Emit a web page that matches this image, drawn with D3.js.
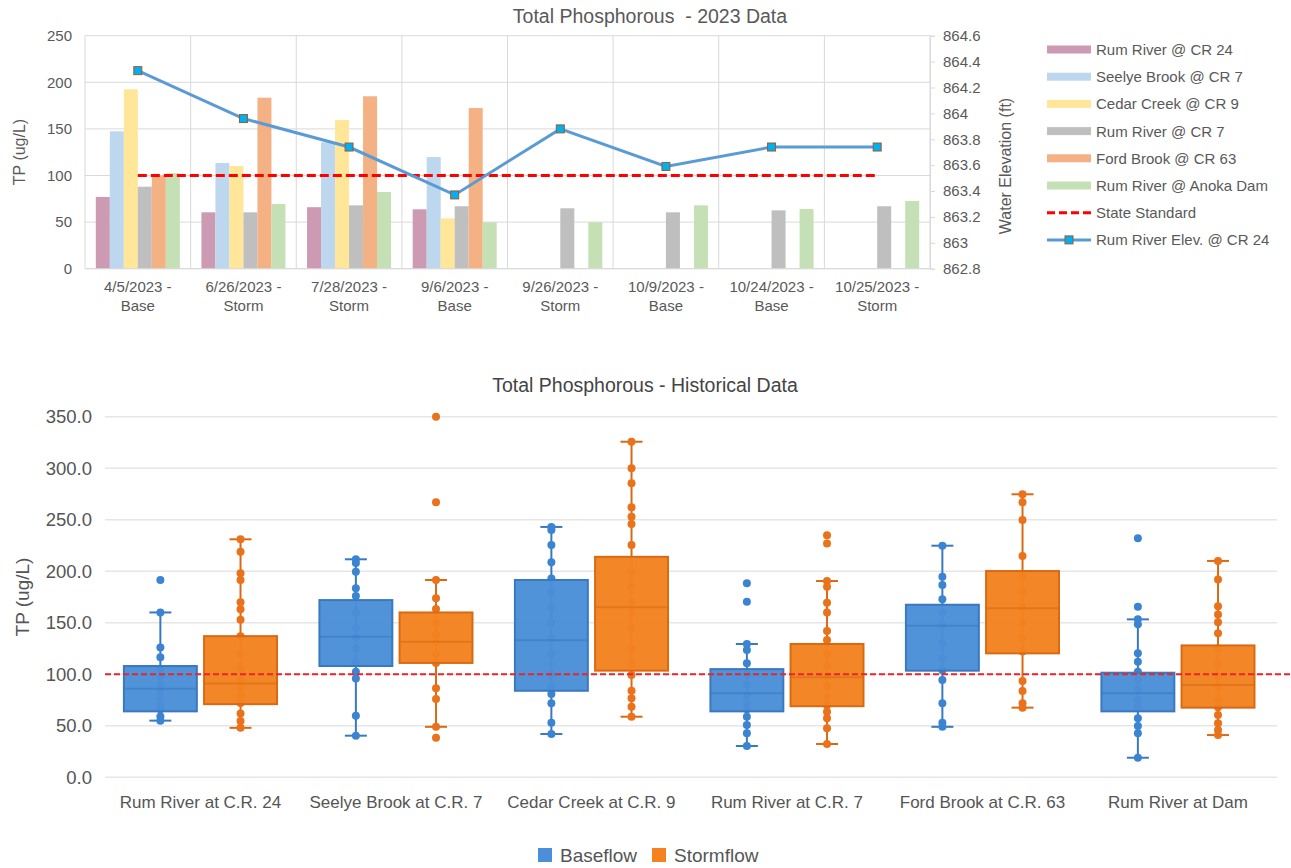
<!DOCTYPE html>
<html>
<head>
<meta charset="utf-8">
<script src="https://cdn.jsdelivr.net/npm/d3@7"></script>
<style>
  body { margin: 0; background: #fff; }
  svg { display: block; }
  text { font-family: "Liberation Sans", Arial, sans-serif; }
</style>
</head>
<body>
<svg id="chart" width="1291" height="868"></svg>
<script>
// ---------- 2023 sampling data ----------
const sampleDates = ["4/5/2023", "6/26/2023", "7/28/2023", "9/6/2023", "9/26/2023", "10/9/2023", "10/24/2023", "10/25/2023"];
const sampleFlow = ["Base", "Storm", "Storm", "Base", "Storm", "Base", "Base", "Storm"];

const rumRiverCR24   = [77, 60.5, 66, 63.7, null, null, null, null];
const seelyeBrookCR7 = [147.4, 113.4, 135.6, 119.8, null, null, null, null];
const cedarCreekCR9  = [192.5, 110.2, 159.5, 54, null, null, null, null];
const rumRiverCR7    = [88, 60.5, 68, 67, 64.8, 60.5, 62.6, 67];
const fordBrookCR63  = [100, 183.5, 185, 172.4, null, null, null, null];
const rumRiverAnoka  = [102.4, 69.4, 82.3, 49.8, 49.8, 68, 64, 72.6];
const riverElevation = [864.33, 863.96, 863.74, 863.37, 863.88, 863.59, 863.74, 863.74];
const stateStandard = 100;

const tpTicks = [0, 50, 100, 150, 200, 250];
const elevTicks = [862.8, 863, 863.2, 863.4, 863.6, 863.8, 864, 864.2, 864.4, 864.6];

const barSeries = [
  { name: "Rum River @ CR 24", values: rumRiverCR24, color: "#cd9ab4" },
  { name: "Seelye Brook @ CR 7", values: seelyeBrookCR7, color: "#bdd7ee" },
  { name: "Cedar Creek @ CR 9", values: cedarCreekCR9, color: "#ffe699" },
  { name: "Rum River @ CR 7", values: rumRiverCR7, color: "#bfbfbf" },
  { name: "Ford Brook @ CR 63", values: fordBrookCR63, color: "#f4b183" },
  { name: "Rum River @ Anoka Dam", values: rumRiverAnoka, color: "#c5e0b4" }
];

// ---------- historical data ----------
const sites = ["Rum River at C.R. 24", "Seelye Brook at C.R. 7", "Cedar Creek at C.R. 9", "Rum River at C.R. 7", "Ford Brook at C.R. 63", "Rum River at Dam"];
// [lower whisker, Q1, median, Q3, upper whisker]
const baseflowStats = [
  [55, 64, 86, 108, 160],
  [40.4, 108, 136.5, 172, 211.6],
  [42, 84, 133, 191.5, 243],
  [30.4, 64, 81.5, 105, 129.4],
  [49, 103.5, 147, 167.5, 224.8],
  [19, 64, 81.5, 101.5, 153.3]
];
const stormflowStats = [
  [48, 71, 91, 137, 231],
  [49, 111, 131.6, 160, 191.5],
  [58.8, 103.5, 165, 214, 325.7],
  [32.3, 69, 97, 129.4, 190.5],
  [67.6, 120.3, 164, 200.2, 274.7],
  [41, 67.6, 89.6, 128, 210]
];
const baseflowSamples = [
  [191.5, 160, 126, 116.5, 105, 98, 90, 85, 78, 70, 66, 59, 55],
  [211.6, 208, 199.5, 183.4, 176, 160, 145, 136, 125, 112, 102.5, 96, 59.8, 40.4],
  [243, 240, 225.5, 208.7, 193, 180, 165, 150, 135, 120, 100, 88, 80.8, 71.8, 53, 42],
  [188.3, 170.5, 129.4, 123.5, 110.6, 100, 90, 80, 72, 66, 58.8, 50.8, 42.7, 30.4],
  [224.8, 194.7, 186.6, 172.7, 160, 147, 130, 115, 104, 94.4, 71.8, 53, 49],
  [232, 165.6, 153.3, 148.5, 120.3, 112.2, 102.5, 95, 85, 75, 68, 57.3, 49.8, 42.7, 19]
];
const stormflowSamples = [
  [231, 219, 198, 191.5, 170, 163, 153, 137, 120, 105, 95, 88, 80, 72, 62, 54.6, 48],
  [350, 267, 191.5, 173.7, 163.3, 150, 138, 131, 120, 111, 86.4, 76, 49, 38.5],
  [325.7, 300, 285.3, 262, 253, 245.8, 225.5, 200, 185, 170, 160, 145, 125, 110, 99.3, 84, 76.7, 68.5, 58.8],
  [235, 227, 190.5, 185, 169.5, 160, 142, 133.3, 120, 108, 98, 88, 78, 70, 63.7, 57.3, 47.5, 32.3],
  [274.7, 267, 249.7, 214.8, 195, 180, 165, 150, 135, 122, 93.5, 83.8, 71.8, 67.6],
  [210, 192, 166, 158, 150.4, 139.8, 125, 110, 98, 88, 75, 68, 60.5, 52.4, 45.9, 41]
];
const histTicks = [0, 50, 100, 150, 200, 250, 300, 350];

const svg = d3.select("#chart");
const textGrey = "#595959";

// =============== Top chart: 2023 bars + elevation line ===============
{
  const left = 85, right = 930, top = 35.7, bottom = 268.7;
  const g = svg.append("g");
  const x0 = d3.scaleBand().domain(d3.range(sampleDates.length)).range([left, right]);
  const bw = x0.bandwidth();
  const x1 = d3.scaleBand().domain(barSeries.map(s => s.name)).range([bw * 0.1023, bw * 0.8977]);
  const yL = d3.scaleLinear().domain([0, 250]).range([bottom, top]);
  const yR = d3.scaleLinear().domain([862.8, 864.6]).range([bottom, top]);

  // gridlines
  g.append("g").selectAll("line").data(tpTicks).join("line")
    .attr("x1", left).attr("x2", right)
    .attr("y1", d => yL(d)).attr("y2", d => yL(d))
    .attr("stroke", "#d9d9d9").attr("stroke-width", 1);
  g.append("g").selectAll("line").data(d3.range(sampleDates.length + 1)).join("line")
    .attr("x1", i => i < sampleDates.length ? x0(i) : right)
    .attr("x2", i => i < sampleDates.length ? x0(i) : right)
    .attr("y1", top).attr("y2", bottom)
    .attr("stroke", "#d9d9d9").attr("stroke-width", 1);

  // bars
  barSeries.forEach(s => {
    g.append("g").selectAll("rect")
      .data(s.values.map((v, i) => ({ v, i })).filter(d => d.v != null))
      .join("rect")
      .attr("x", d => x0(d.i) + x1(s.name))
      .attr("width", x1.bandwidth())
      .attr("y", d => yL(d.v))
      .attr("height", d => yL(0) - yL(d.v))
      .attr("fill", s.color);
  });

  // state standard
  const cx = i => x0(i) + bw / 2;
  g.append("line")
    .attr("x1", cx(0)).attr("x2", cx(sampleDates.length - 1))
    .attr("y1", yL(stateStandard)).attr("y2", yL(stateStandard))
    .attr("stroke", "#ff0000").attr("stroke-width", 3).attr("stroke-dasharray", "9,4");

  // elevation line
  g.append("path")
    .datum(riverElevation)
    .attr("d", d3.line().x((d, i) => cx(i)).y(d => yR(d)))
    .attr("fill", "none").attr("stroke", "#5b9bd5").attr("stroke-width", 3);
  g.append("g").selectAll("rect").data(riverElevation).join("rect")
    .attr("x", (d, i) => cx(i) - 4).attr("y", d => yR(d) - 4)
    .attr("width", 8).attr("height", 8)
    .attr("fill", "#00b0f0").attr("stroke", "#9a5b2e").attr("stroke-width", 1);

  // left axis
  const axL = g.append("g").attr("transform", `translate(${left},0)`)
    .call(d3.axisLeft(yL).tickValues(tpTicks).tickSize(0).tickPadding(13));
  axL.select(".domain").remove();
  axL.selectAll("text").attr("fill", textGrey).style("font-size", "15px");

  // right axis
  const axR = g.append("g").attr("transform", `translate(${right},0)`)
    .call(d3.axisRight(yR).tickValues(elevTicks).tickSize(5).tickPadding(8).tickFormat(d => String(+d.toFixed(1))));
  axR.select(".domain").attr("stroke", "#d9d9d9");
  axR.selectAll("line").attr("stroke", "#d9d9d9");
  axR.selectAll("text").attr("fill", textGrey).style("font-size", "15px");

  // bottom axis line and labels
  g.append("line").attr("x1", left).attr("x2", right).attr("y1", bottom).attr("y2", bottom)
    .attr("stroke", "#d9d9d9");
  const lab = g.append("g").selectAll("text").data(sampleDates).join("text")
    .attr("x", (d, i) => cx(i)).attr("text-anchor", "middle")
    .attr("fill", textGrey).style("font-size", "15px");
  lab.append("tspan").attr("x", (d, i) => cx(i)).attr("y", 292).text(d => d + " -");
  lab.append("tspan").attr("x", (d, i) => cx(i)).attr("y", 311).text((d, i) => sampleFlow[i]);

  // titles
  g.append("text").attr("x", 650).attr("y", 23).attr("text-anchor", "middle")
    .attr("fill", textGrey).style("font-size", "19.5px").style("white-space", "pre")
    .text("Total Phosphorous  - 2023 Data");
  g.append("text").attr("transform", "translate(25,152) rotate(-90)").attr("text-anchor", "middle")
    .attr("fill", textGrey).style("font-size", "16px").text("TP (ug/L)");
  g.append("text").attr("transform", "translate(1011,166) rotate(-90)").attr("text-anchor", "middle")
    .attr("fill", textGrey).style("font-size", "16px").text("Water Elevation (ft)");

  // legend
  const legendItems = barSeries.map(s => ({ name: s.name, type: "bar", color: s.color }))
    .concat([{ name: "State Standard", type: "dash" }, { name: "Rum River Elev. @ CR 24", type: "line" }]);
  const lg = g.append("g").selectAll("g").data(legendItems).join("g")
    .attr("transform", (d, i) => `translate(1047,${49.5 + i * 27.2})`);
  lg.filter(d => d.type === "bar").append("rect")
    .attr("x", 0).attr("y", -4).attr("width", 44).attr("height", 8).attr("fill", d => d.color);
  lg.filter(d => d.type === "dash").append("line")
    .attr("x1", 0).attr("x2", 44).attr("y1", 0).attr("y2", 0)
    .attr("stroke", "#ff0000").attr("stroke-width", 3).attr("stroke-dasharray", "8,4");
  const ll = lg.filter(d => d.type === "line");
  ll.append("line").attr("x1", 0).attr("x2", 44).attr("y1", 0).attr("y2", 0)
    .attr("stroke", "#5b9bd5").attr("stroke-width", 3);
  ll.append("rect").attr("x", 18).attr("y", -4).attr("width", 8).attr("height", 8)
    .attr("fill", "#00b0f0").attr("stroke", "#9a5b2e");
  lg.append("text").attr("x", 49).attr("y", 5.5).attr("fill", textGrey)
    .style("font-size", "15px").text(d => d.name);
}

// =============== Bottom chart: historical box plots ===============
{
  const left = 105, right = 1277, top = 416.7, bottom = 777.3;
  const g = svg.append("g");
  const histGrey = "#555";
  const y = d3.scaleLinear().domain([0, 350]).range([bottom, top]);
  const x = d3.scaleBand().domain(sites).range([102.7, 1275.7]);
  const step = x.bandwidth();
  const boxW = step * 0.373, offset = step * 0.205, capW = 22;

  g.append("g").selectAll("line").data(histTicks).join("line")
    .attr("x1", left).attr("x2", right)
    .attr("y1", d => y(d)).attr("y2", d => y(d))
    .attr("stroke", "#e6e6e6").attr("stroke-width", 1.5);

  const flows = [
    { name: "Baseflow", stats: baseflowStats, samples: baseflowSamples, dir: -1,
      fill: "#4a8fd7", stroke: "#3a78c0", dot: "#3b84d1" },
    { name: "Stormflow", stats: stormflowStats, samples: stormflowSamples, dir: 1,
      fill: "#f3821f", stroke: "#d96a14", dot: "#ea721a" }
  ];

  flows.forEach(f => {
    sites.forEach((site, i) => {
      const c = x(site) + step / 2 + f.dir * offset;
      const [lo, q1, med, q3, hi] = f.stats[i];
      const bg = g.append("g");
      bg.append("line").attr("x1", c).attr("x2", c).attr("y1", y(lo)).attr("y2", y(hi))
        .attr("stroke", f.stroke).attr("stroke-width", 2);
      bg.selectAll("line.cap").data([lo, hi]).join("line").attr("class", "cap")
        .attr("x1", c - capW / 2).attr("x2", c + capW / 2)
        .attr("y1", d => y(d)).attr("y2", d => y(d))
        .attr("stroke", f.stroke).attr("stroke-width", 2);
      bg.selectAll("circle").data(f.samples[i]).join("circle")
        .attr("cx", c).attr("cy", d => y(d)).attr("r", 4)
        .attr("fill", f.dot);
      bg.append("rect")
        .attr("x", c - boxW / 2).attr("width", boxW)
        .attr("y", y(q3)).attr("height", y(q1) - y(q3))
        .attr("fill", f.fill).attr("fill-opacity", 0.96)
        .attr("stroke", f.stroke).attr("stroke-width", 2);
      bg.append("line").attr("x1", c - boxW / 2).attr("x2", c + boxW / 2)
        .attr("y1", y(med)).attr("y2", y(med))
        .attr("stroke", f.stroke).attr("stroke-width", 2).attr("stroke-opacity", 0.6);
    });
  });

  // state standard
  g.append("line").attr("x1", left).attr("x2", 1291)
    .attr("y1", y(stateStandard)).attr("y2", y(stateStandard))
    .attr("stroke", "#e8252b").attr("stroke-width", 2).attr("stroke-dasharray", "6,3");

  const ay = g.append("g").attr("transform", `translate(${left},0)`)
    .call(d3.axisLeft(y).tickValues(histTicks).tickSize(0).tickPadding(13).tickFormat(d3.format(".1f")));
  ay.select(".domain").remove();
  ay.selectAll("text").attr("fill", histGrey).style("font-size", "18.5px");

  g.append("g").selectAll("text").data(sites).join("text")
    .attr("x", d => x(d) + step / 2).attr("y", 808).attr("text-anchor", "middle")
    .attr("fill", histGrey).style("font-size", "17px").text(d => d);

  g.append("text").attr("x", 645).attr("y", 392).attr("text-anchor", "middle")
    .attr("fill", "#444").style("font-size", "19.5px").text("Total Phosphorous - Historical Data");
  g.append("text").attr("transform", "translate(29,597) rotate(-90)").attr("text-anchor", "middle")
    .attr("fill", histGrey).style("font-size", "19px").text("TP (ug/L)");

  const leg = g.append("g").selectAll("g").data(flows).join("g")
    .attr("transform", (d, i) => `translate(${i === 0 ? 538 : 652},848)`);
  leg.append("rect").attr("width", 14).attr("height", 14).attr("fill", d => d.fill);
  leg.append("text").attr("x", 22).attr("y", 14).attr("fill", histGrey)
    .style("font-size", "19px").text(d => d.name);
}
</script>
</body>
</html>
